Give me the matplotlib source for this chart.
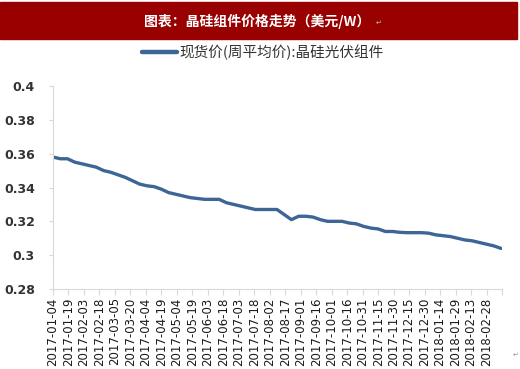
import pandas as pd
import matplotlib.pyplot as plt
import matplotlib.dates as mdates

plt.rcParams['font.family'] = ['Noto Sans CJK SC', 'DejaVu Sans']

# 周平均价 (美元/W)，每周一个点，从 2017-01-04 开始
price = [0.358, 0.357, 0.357, 0.355, 0.354, 0.353, 0.352, 0.350, 0.349, 0.3475,
         0.346, 0.344, 0.342, 0.341, 0.3405, 0.339, 0.337, 0.336, 0.335, 0.334,
         0.3335, 0.333, 0.333, 0.333, 0.331, 0.330, 0.329, 0.328, 0.327, 0.327,
         0.327, 0.327, 0.324, 0.321, 0.323, 0.323, 0.3225, 0.321, 0.320, 0.320,
         0.320, 0.319, 0.3185, 0.317, 0.316, 0.3155, 0.314, 0.314, 0.3135, 0.3133,
         0.3133, 0.3133, 0.313, 0.312, 0.3115, 0.311, 0.310, 0.309, 0.3085, 0.3075,
         0.3065, 0.3055, 0.304]
dates = pd.date_range('2017-01-04', periods=len(price), freq='7D')

# x轴刻度：每15天
tick_dates = pd.date_range('2017-01-04', '2018-03-15', freq='15D')
tick_labels = [d.strftime('%Y-%m-%d') if d <= pd.Timestamp('2018-02-28') else ''
               for d in tick_dates]
y_ticks = [0.28, 0.30, 0.32, 0.34, 0.36, 0.38, 0.40]
y_labels = ['0.28', '0.3', '0.32', '0.34', '0.36', '0.38', '0.4']

title = '图表：晶硅组件价格走势（美元/W）'
series_name = '现货价(周平均价):晶硅光伏组件'

fig = plt.figure(figsize=(5.2, 3.69), dpi=100)

# 顶部红色标题栏
fig.patches.append(plt.Rectangle((0, 1 - 39 / 369), 517 / 520, 37 / 369,
                                 transform=fig.transFigure, color='#990000', zorder=0))
fig.text(0.495, 1 - 21 / 369, title, color='white', fontsize=10, fontweight='bold',
         ha='center', va='center')
fig.text(0.722, 1 - 23 / 369, '↵', color='#bbbbbb', fontsize=5, ha='left', va='center')
fig.text(0.985, 1 - 355 / 369, '↵', color='#999999', fontsize=5, ha='left', va='center')

ax = fig.add_axes([53 / 520, 1 - 289 / 369, 449 / 520, 203 / 369])
ax.plot(dates, price, color='#3d6596', lw=2.4, label=series_name, solid_capstyle='round')

ax.set_xlim(pd.Timestamp('2017-01-04'), pd.Timestamp('2018-03-15'))
ax.set_ylim(0.28, 0.40)
ax.set_xticks(tick_dates)
ax.set_xticklabels(tick_labels, rotation=90, fontsize=8.5, color='#1a1a1a',
                   family=['DejaVu Sans'])
ax.set_yticks(y_ticks)
ax.set_yticklabels(y_labels, fontsize=9, color='#333333', fontweight='bold',
                   family=['DejaVu Sans'])

for s in ['top', 'right']:
    ax.spines[s].set_visible(False)
for s in ['left', 'bottom']:
    ax.spines[s].set_color('#d9d9d9')
ax.tick_params(axis='x', length=4, color='#d9d9d9', pad=2)
ax.tick_params(axis='y', length=3, color='#d9d9d9', pad=10)

leg = fig.legend(loc='center', bbox_to_anchor=(0.505, 1 - 52 / 369), frameon=False,
                 fontsize=10.5, handlelength=2.4, handletextpad=0.2)
leg.get_lines()[0].set_linewidth(3.2)
for t in leg.get_texts():
    t.set_color('#333333')

fig.savefig('out.png', dpi=100)
